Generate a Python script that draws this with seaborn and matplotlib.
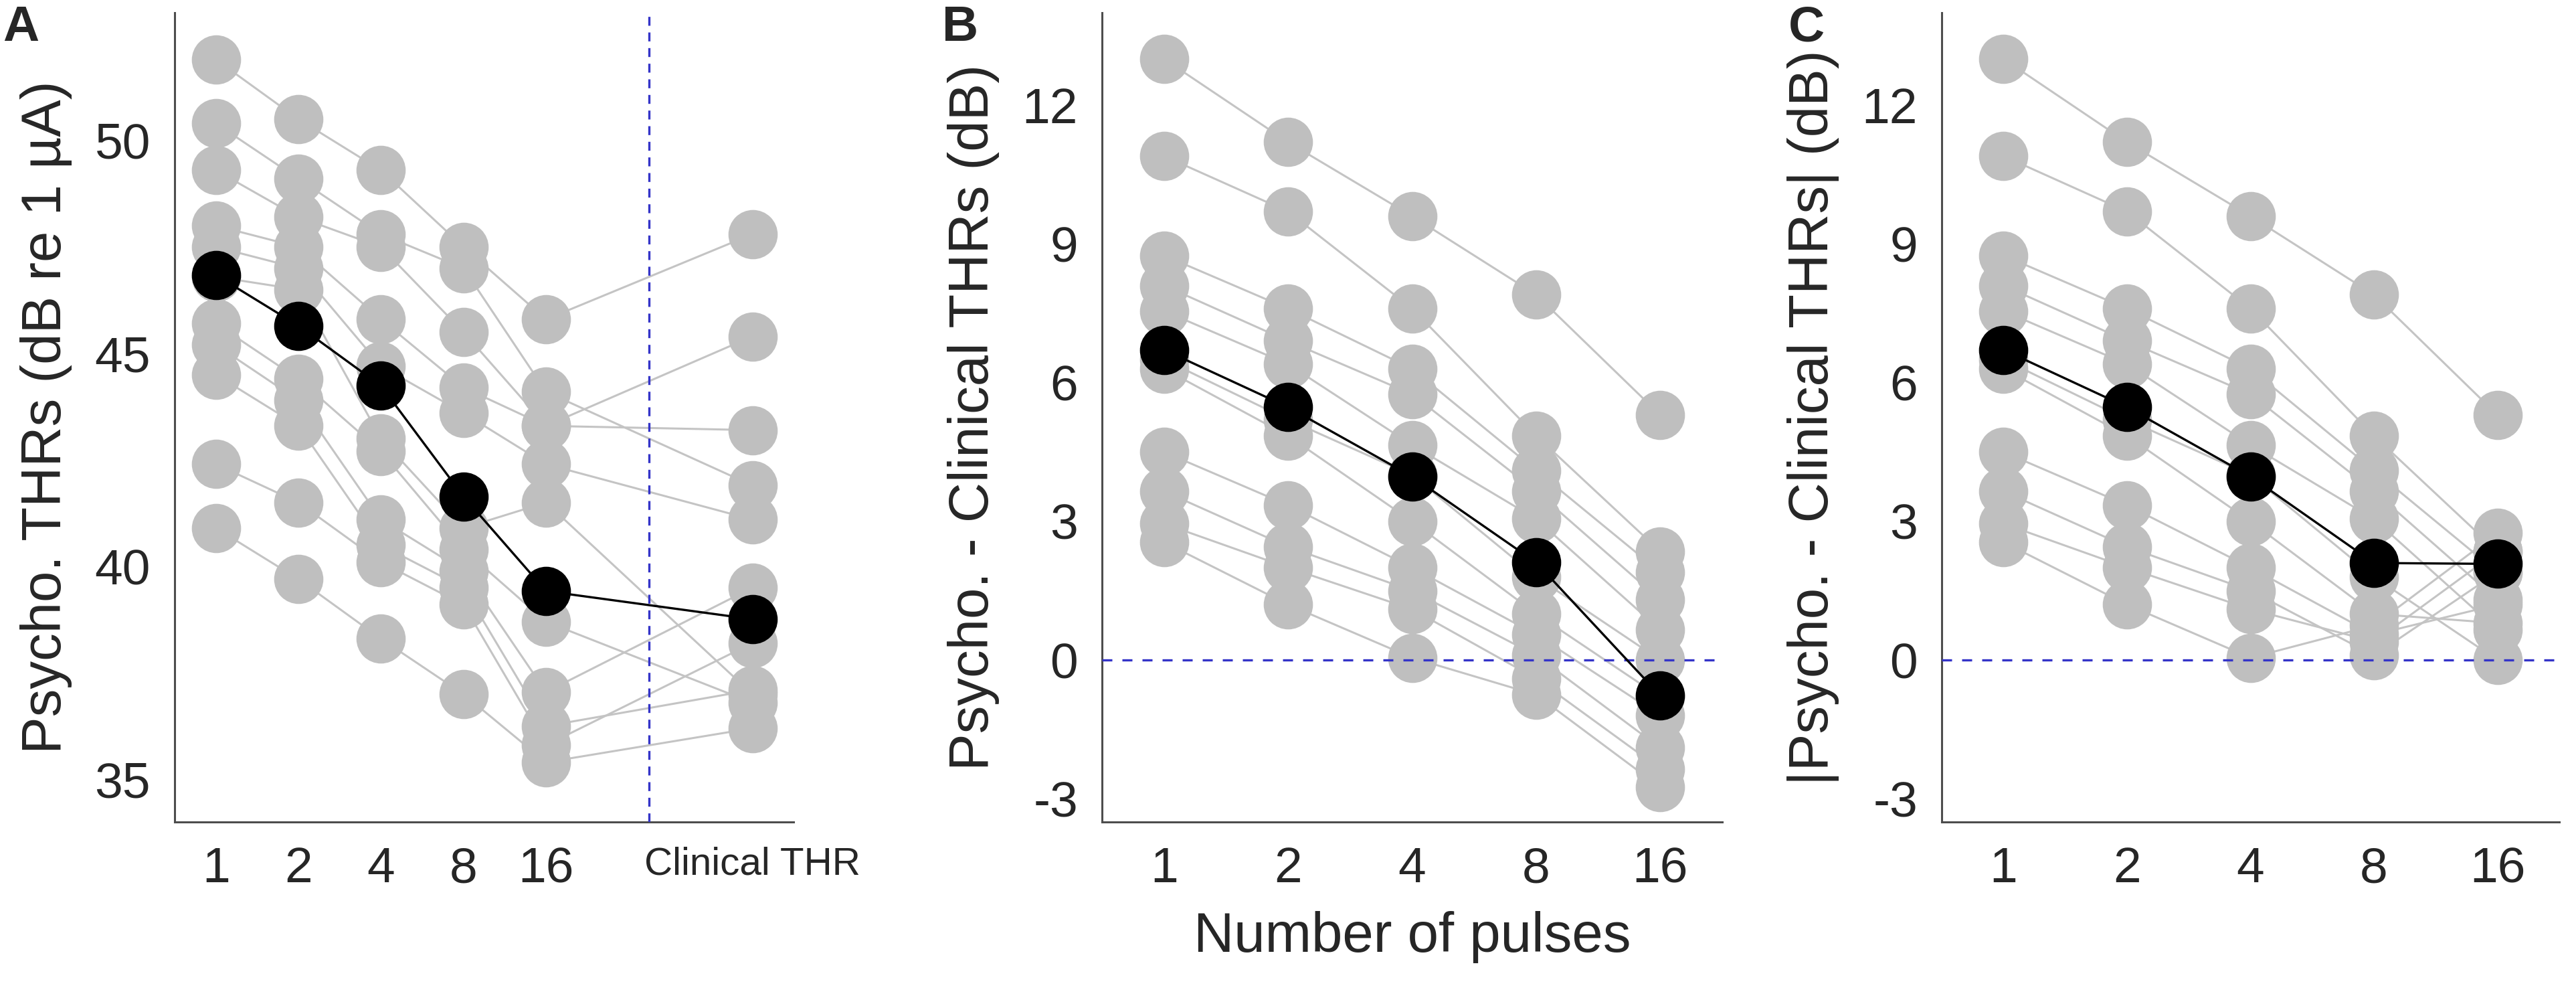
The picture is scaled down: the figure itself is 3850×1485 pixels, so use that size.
import numpy as np
import pandas as pd
import matplotlib
matplotlib.use("Agg")
from matplotlib import pyplot as plt
import seaborn as sns

# Data (11 subjects, one value per subject per condition)

pulse_labels = ["1", "2", "4", "8", "16"]
clinical_label = "Clinical THR"

# A: psychophysical thresholds (dB re 1 uA)
thr_1 = [51.9, 50.4, 49.3, 48.0, 47.5, 46.8, 45.7, 45.2, 44.5, 42.4, 40.9]
thr_2 = [50.5, 49.1, 48.2, 47.5, 47.0, 46.5, 44.4, 43.9, 43.3, 41.5, 39.7]
thr_4 = [49.3, 47.8, 47.5, 45.8, 44.7, 43.0, 42.7, 41.1, 40.5, 40.1, 38.3]
thr_8 = [47.5, 47.0, 45.5, 44.2, 43.6, 40.9, 40.4, 39.9, 39.5, 39.1, 37.0]
thr_16 = [45.8, 44.1, 43.3, 43.3, 42.4, 41.5, 38.7, 37.05, 36.25, 35.8, 35.4]
thr_clinical = [47.8, 41.9, 45.4, 43.2, 41.1, 37.0, 36.8, 39.5, 37.1, 38.2, 36.2]
thr_mean = [46.84, 45.65, 44.24, 41.64, 39.42, 38.76]

# B: psycho. - clinical (dB)
diff_1 = [13.0, 10.9, 8.75, 8.1, 7.55, 6.5, 6.3, 4.5, 3.65, 2.95, 2.55]
diff_2 = [11.2, 9.7, 7.6, 6.9, 6.4, 5.2, 4.85, 3.35, 2.45, 2.0, 1.2]
diff_4 = [9.6, 7.6, 6.3, 5.75, 4.65, 4.0, 3.0, 2.0, 1.5, 1.1, 0.05]
diff_8 = [7.9, 4.85, 4.1, 3.65, 3.05, 1.8, 1.0, 0.55, 0.1, -0.4, -0.75]
diff_16 = [5.3, 2.35, 1.9, 1.3, 0.65, 0.0, -0.8, -1.2, -1.9, -2.35, -2.75]
diff_mean = [6.71, 5.47, 3.97, 2.11, -0.77]

# C: |psycho. - clinical| (dB)
absdiff_1 = [13.0, 10.9, 8.75, 8.1, 7.55, 6.5, 6.3, 4.5, 3.65, 2.95, 2.55]
absdiff_2 = [11.2, 9.7, 7.6, 6.9, 6.4, 5.2, 4.85, 3.35, 2.45, 2.0, 1.2]
absdiff_4 = [9.6, 7.6, 6.3, 5.75, 4.65, 4.0, 3.0, 2.0, 1.5, 1.1, 0.05]
absdiff_8 = [7.9, 4.85, 4.1, 3.65, 3.05, 1.8, 1.0, 0.55, 0.1, 0.4, 0.75]
absdiff_16 = [5.3, 2.35, 1.9, 1.3, 0.65, 0.0, 0.8, 1.2, 1.9, 2.35, 2.75]
absdiff_mean = [6.71, 5.47, 3.97, 2.10, 2.08]

# Style
sns.set_style("white")
plt.rcParams['font.family'] = ['Liberation Sans', 'DejaVu Sans']
plt.rcParams['axes.unicode_minus'] = False

GRAY = "#bfbfbf"
LINE_GRAY = "#c4c4c4"
DASH_BLUE = "#3434c8"
AXIS_COL = "#4d4d4d"
TEXT_COL = "#262626"
MSIZE = 26.5 ** 2

def long_table(columns, xpos):
    rows = []
    for x, vals in zip(xpos, columns):
        for subj, v in enumerate(vals):
            rows.append((subj, x, v))
    return pd.DataFrame(rows, columns=["subject", "x", "y"])

def draw_panel(ax, columns, mean, xpos):
    df = long_table(columns, xpos)
    sns.lineplot(data=df, x="x", y="y", units="subject", estimator=None,
                 color=LINE_GRAY, lw=1.1, ax=ax, zorder=1, legend=False)
    sns.scatterplot(data=df, x="x", y="y", color=GRAY, s=MSIZE, linewidth=0,
                    ax=ax, zorder=2, legend=False)
    sns.lineplot(x=xpos, y=mean, color="black", lw=1.2, ax=ax, zorder=4)
    sns.scatterplot(x=xpos, y=mean, color="black", s=MSIZE, linewidth=0,
                    ax=ax, zorder=5)

def style_axis(ax):
    sns.despine(ax=ax)
    for side in ["left", "bottom"]:
        ax.spines[side].set_color(AXIS_COL)
        ax.spines[side].set_linewidth(1.1)
    ax.tick_params(direction="in", length=4.7, width=1.0, color=AXIS_COL,
                   labelsize=27, labelcolor=TEXT_COL, pad=13)
    ax.set_xlabel("")
    ax.set_ylabel("")

fig = plt.figure(figsize=(19.25, 7.425), dpi=200)
bottom, height = 0.1731, 0.8141
ax_a = fig.add_axes([0.0678, bottom, 0.2403, height])
ax_b = fig.add_axes([0.4278, bottom, 0.2408, height])
ax_c = fig.add_axes([0.7538, bottom, 0.2397, height])

# Panel A
pos_a = [1, 2, 3, 4, 5, 7.5]
draw_panel(ax_a, [thr_1, thr_2, thr_4, thr_8, thr_16, thr_clinical], thr_mean, pos_a)
ax_a.axvline(6.25, color=DASH_BLUE, lw=1.2, ls=(0, (4.0, 3.0)), zorder=3)
style_axis(ax_a)
ax_a.set_xlim(0.5, 8)
ax_a.set_ylim(34, 53)
ax_a.set_yticks([35, 40, 45, 50])
ax_a.set_xticks(pos_a)
ax_a.set_xticklabels(pulse_labels + [clinical_label])
ax_a.get_xticklabels()[-1].set_fontsize(21)
ax_a.set_ylabel("Psycho. THRs (dB re 1 µA)", fontsize=30, color=TEXT_COL, labelpad=12)

# Panel B and C
pos_b = [1, 2, 3, 4, 5]
draw_panel(ax_b, [diff_1, diff_2, diff_4, diff_8, diff_16], diff_mean, pos_b)
draw_panel(ax_c, [absdiff_1, absdiff_2, absdiff_4, absdiff_8, absdiff_16], absdiff_mean, pos_b)
for ax, lab in [(ax_b, "Psycho. - Clinical THRs (dB)"), (ax_c, "|Psycho. - Clinical THRs| (dB)")]:
    ax.axhline(0, color=DASH_BLUE, lw=1.2, ls=(0, (4.5, 4.5)), zorder=3)
    style_axis(ax)
    ax.set_xlim(0.5, 5.5)
    ax.set_ylim(-3.5, 14)
    ax.set_yticks([-3, 0, 3, 6, 9, 12])
    ax.set_xticks(pos_b)
    ax.set_xticklabels(pulse_labels)
    ax.set_ylabel(lab, fontsize=30, color=TEXT_COL, labelpad=12)
ax_b.set_xlabel("Number of pulses", fontsize=30, color=TEXT_COL, labelpad=10)

# Panel letters
for x, letter in [(0.001, "A"), (0.3657, "B"), (0.6943, "C")]:
    fig.text(x, 0.995, letter, fontsize=27, fontweight="bold", va="top", ha="left")

fig.savefig("out.png", dpi=200)
